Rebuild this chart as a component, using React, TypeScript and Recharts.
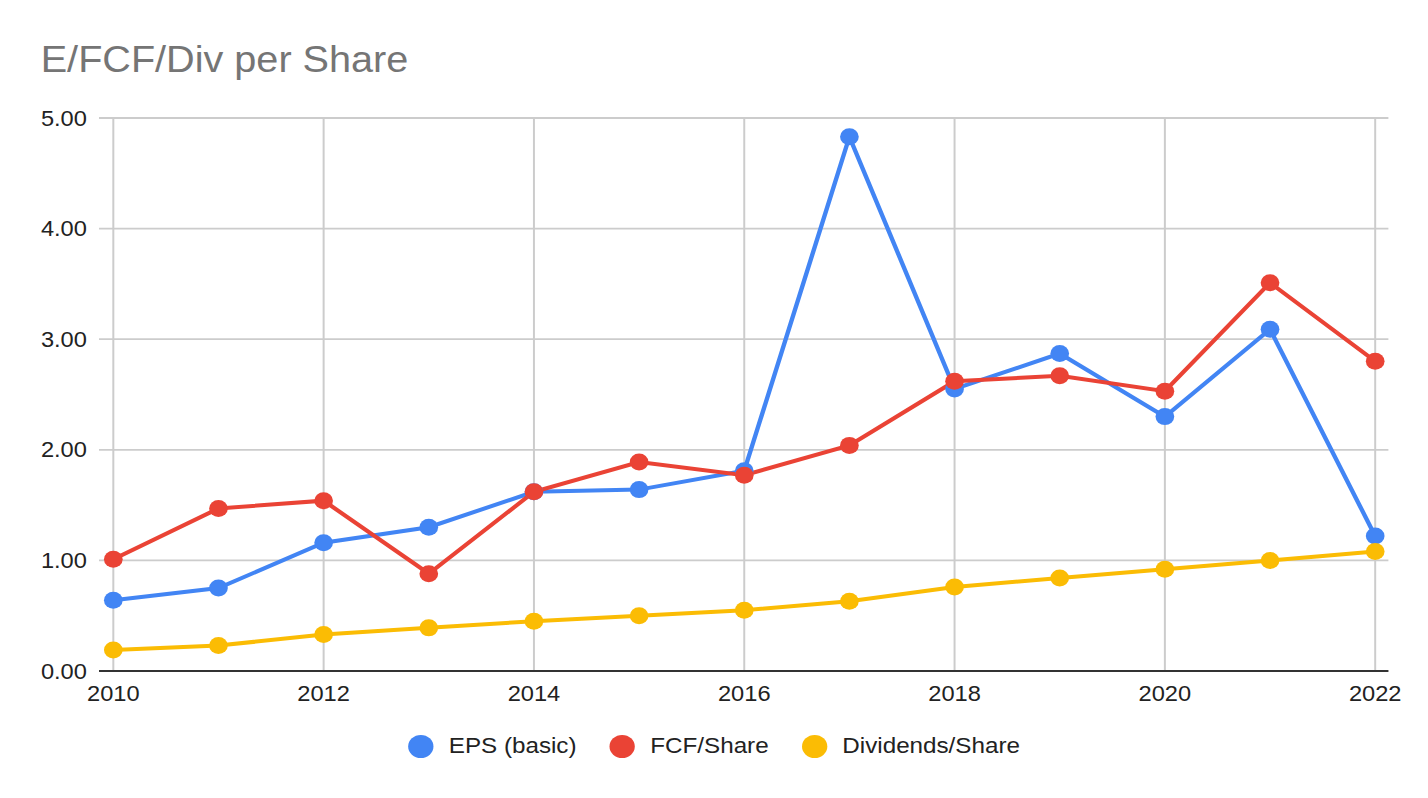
import { LineChart, Line, XAxis, YAxis, CartesianGrid } from "recharts";

const years = [2010, 2011, 2012, 2013, 2014, 2015, 2016, 2017, 2018, 2019, 2020, 2021, 2022];
const eps = [0.64, 0.75, 1.16, 1.3, 1.62, 1.64, 1.81, 4.83, 2.55, 2.87, 2.3, 3.09, 1.22];
const fcf = [1.01, 1.47, 1.54, 0.88, 1.62, 1.89, 1.77, 2.04, 2.62, 2.67, 2.53, 3.51, 2.8];
const dividends = [0.19, 0.23, 0.33, 0.39, 0.45, 0.5, 0.55, 0.63, 0.76, 0.84, 0.92, 1.0, 1.08];

const xTicks = [2010, 2012, 2014, 2016, 2018, 2020, 2022];
const yTicks = [0, 1, 2, 3, 4, 5];

const series = [
  { key: "eps", name: "EPS (basic)", color: "#4285F4" },
  { key: "fcf", name: "FCF/Share", color: "#EA4335" },
  { key: "div", name: "Dividends/Share", color: "#FBBC04" },
];

const data = years.map((year, i) => ({
  year,
  eps: eps[i],
  fcf: fcf[i],
  div: dividends[i],
}));

// the reference is stretched sideways, so draw narrower and scale up
const INNER_W = 1298;
const H = 798;
const FONT = "Arial, 'Liberation Sans', sans-serif";

function App() {
  return (
    <div
      style={{
        position: "absolute",
        left: 0,
        top: 0,
        width: INNER_W,
        height: H,
        background: "#fff",
        transform: `scaleX(${1428 / INNER_W})`,
        transformOrigin: "0 0",
        fontFamily: FONT,
      }}
    >
      <div
        style={{
          position: "absolute",
          left: 37,
          top: 41.5,
          fontSize: 36,
          lineHeight: "36px",
          color: "#757575",
          whiteSpace: "nowrap",
        }}
      >
        E/FCF/Div per Share
      </div>

      <LineChart
        width={INNER_W}
        height={H}
        data={data}
        margin={{ top: 118, right: 36, bottom: 87, left: 0 }}
      >
        <CartesianGrid stroke="#cccccc" strokeWidth={1.8} syncWithTicks />
        <XAxis
          dataKey="year"
          type="number"
          domain={[2010, 2022]}
          ticks={xTicks}
          padding={{ left: 13, right: 12 }}
          height={40}
          tickLine={false}
          tickSize={0}
          tickMargin={15}
          axisLine={{ stroke: "#333333", strokeWidth: 2 }}
          tick={{ fill: "#222222", fontSize: 21.5, fontFamily: FONT }}
        />
        <YAxis
          domain={[0, 5]}
          ticks={yTicks}
          width={90}
          axisLine={false}
          tickLine={false}
          tickSize={0}
          tickMargin={11}
          tickFormatter={(v: number) => v.toFixed(2)}
          tick={{ fill: "#222222", fontSize: 21.5, fontFamily: FONT }}
        />
        {series.map((s) => (
          <Line
            key={s.key}
            dataKey={s.key}
            name={s.name}
            type="linear"
            stroke={s.color}
            strokeWidth={4}
            dot={{ r: 8.5, fill: s.color, stroke: "none" }}
            activeDot={false}
            isAnimationActive={false}
          />
        ))}
      </LineChart>

      <div
        style={{
          position: "absolute",
          left: 0,
          top: 731,
          width: INNER_W,
          height: 30,
          display: "flex",
          justifyContent: "center",
          alignItems: "center",
        }}
      >
        {series.map((s, i) => (
          <div
            key={s.key}
            style={{
              display: "flex",
              alignItems: "center",
              marginRight: i < series.length - 1 ? 30 : 0,
            }}
          >
            <span
              style={{
                width: 23,
                height: 23,
                borderRadius: "50%",
                background: s.color,
                marginRight: 14,
                display: "inline-block",
              }}
            />
            <span style={{ fontSize: 22, color: "#222222", whiteSpace: "nowrap" }}>
              {s.name}
            </span>
          </div>
        ))}
      </div>
    </div>
  );
}

export default App;
